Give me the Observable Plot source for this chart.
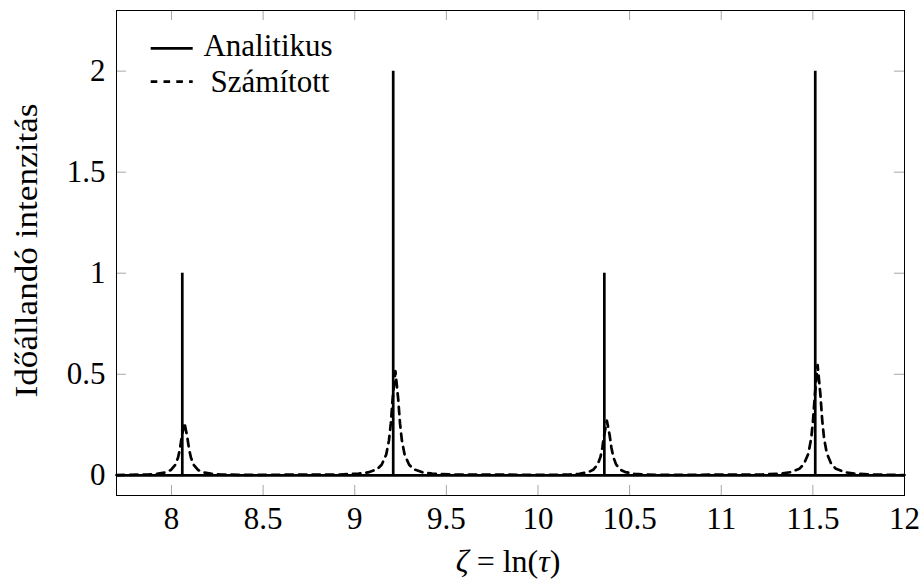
<!DOCTYPE html>
<html>
<head>
<meta charset="utf-8">
<script src="https://cdn.jsdelivr.net/npm/d3@7"></script>
<script src="https://cdn.jsdelivr.net/npm/@observablehq/plot@0.6"></script>
<style>
  html, body { margin: 0; padding: 0; background: #fff; }
  svg { display: block; }
</style>
</head>
<body>
<div id="chart"></div>
<script>
// ---- Data ----
const seriesNames = ["Analitikus", "Számított"];
const xLabelParts = ["ζ", " = ln(", "τ", ")"];
const yLabel = "Időállandó intenzitás";

const xTicks = [8, 8.5, 9, 9.5, 10, 10.5, 11, 11.5, 12];
const yTicks = [0, 0.5, 1, 1.5, 2];
const xDomain = [7.7, 12];
const yDomain = [-0.1, 2.3];

// Analitikus: spikes
const analyticX = [8.059, 9.210, 10.362, 11.513];
const analyticY = [1, 2, 1, 2];

// Számított: read point by point
const computedX = [
  7.700,
  7.771, 7.871, 7.921, 7.971, 7.996, 8.021, 8.036, 8.046, 8.056, 8.071, 8.086, 8.096, 8.106, 8.121, 8.146, 8.171, 8.221, 8.271, 8.371,
  8.922, 9.022, 9.072, 9.122, 9.147, 9.172, 9.187, 9.197, 9.207, 9.222, 9.237, 9.247, 9.257, 9.272, 9.297, 9.322, 9.372, 9.422, 9.522,
  10.076, 10.176, 10.226, 10.276, 10.301, 10.326, 10.341, 10.351, 10.361, 10.376, 10.391, 10.401, 10.411, 10.426, 10.451, 10.476, 10.526, 10.576, 10.676,
  11.226, 11.326, 11.376, 11.426, 11.451, 11.476, 11.491, 11.501, 11.511, 11.526, 11.541, 11.551, 11.561, 11.576, 11.601, 11.626, 11.676, 11.726, 11.826,
  12.000
];
const computedY = [
  0.001,
  0.002, 0.004, 0.007, 0.015, 0.026, 0.052, 0.088, 0.130, 0.190, 0.260, 0.190, 0.130, 0.088, 0.052, 0.026, 0.015, 0.007, 0.004, 0.002,
  0.004, 0.008, 0.014, 0.030, 0.052, 0.103, 0.174, 0.258, 0.379, 0.515, 0.379, 0.258, 0.174, 0.103, 0.052, 0.030, 0.014, 0.008, 0.004,
  0.002, 0.004, 0.007, 0.016, 0.027, 0.054, 0.091, 0.135, 0.198, 0.270, 0.198, 0.135, 0.091, 0.054, 0.027, 0.016, 0.007, 0.004, 0.002,
  0.004, 0.008, 0.015, 0.032, 0.055, 0.109, 0.184, 0.273, 0.400, 0.545, 0.400, 0.273, 0.184, 0.109, 0.055, 0.032, 0.015, 0.008, 0.004,
  0.001
];

// ---- Tables built from the arrays ----
const analytic = analyticX.map((x, i) => ({x, y: analyticY[i]}));
const computed = computedX.map((x, i) => ({x, y: computedY[i]}));

const W = 922, H = 581;
const mL = 116, mR = 18, mT = 10, mB = 86;
const innerW = W - mL - mR, innerH = H - mT - mB;
const tickLen = 10;
const FONT = "'Liberation Serif'";
const FS = 31;
const tickGray = "#a6a6a6";
const lw = 2.7;
const dash = "7.5,6";
const fmt = d => String(d);

const plot = Plot.plot({
  width: W, height: H,
  marginLeft: mL, marginRight: mR, marginTop: mT, marginBottom: mB,
  style: {background: "white", color: "black", overflow: "visible"},
  x: {domain: xDomain},
  y: {domain: yDomain},
  marks: [
    Plot.ruleX(xTicks, {stroke: tickGray, strokeWidth: 1, insetTop: innerH - tickLen}),
    Plot.ruleX(xTicks, {stroke: tickGray, strokeWidth: 1, insetBottom: innerH - tickLen}),
    Plot.ruleY(yTicks, {stroke: tickGray, strokeWidth: 1, insetRight: innerW - tickLen}),
    Plot.ruleY(yTicks, {stroke: tickGray, strokeWidth: 1, insetLeft: innerW - tickLen}),
    Plot.axisX(xTicks, {tickSize: 0, tickPadding: 11, label: null, fill: "black", tickFormat: fmt, fontSize: FS}),
    Plot.axisY(yTicks, {tickSize: 0, tickPadding: 11, label: null, fill: "black", tickFormat: fmt, fontSize: FS}),
    Plot.ruleY([0], {stroke: "black", strokeWidth: lw}),
    Plot.ruleX(analytic, {x: "x", y1: 0, y2: "y", stroke: "black", strokeWidth: lw}),
    Plot.line(computed, {x: "x", y: "y", stroke: "black", strokeWidth: lw, strokeDasharray: dash}),
    Plot.frame({stroke: "black", strokeWidth: 1})
  ]
});

document.getElementById("chart").appendChild(plot);

// ---- Axis titles and legend ----
const svg = d3.select(plot);
const g = svg.append("g").attr("fill", "black");

// y title
g.append("text")
  .attr("transform", `translate(37,${mT + innerH / 2 - 2}) rotate(-90)`)
  .attr("text-anchor", "middle")
  .attr("textLength", 294)
  .attr("lengthAdjust", "spacingAndGlyphs")
  .style("font-size", FS + "px")
  .text(yLabel);

// x title with italic Greek letters
const xt = g.append("text")
  .attr("x", mL + innerW / 2 - 2)
  .attr("y", 572)
  .attr("text-anchor", "middle")
  .style("font-size", "32px");
xLabelParts.forEach((p, i) => {
  xt.append("tspan").style("font-style", i % 2 === 0 ? "italic" : "normal").text(p);
});

// legend
const lg = g.append("g");
lg.append("line").attr("x1", 150.7).attr("x2", 192.7).attr("y1", 48.3).attr("y2", 48.3)
  .attr("stroke", "black").attr("stroke-width", lw);
lg.append("line").attr("x1", 150.7).attr("x2", 192.7).attr("y1", 81.7).attr("y2", 81.7)
  .attr("stroke", "black").attr("stroke-width", lw).attr("stroke-dasharray", "6.6,6.2");
lg.append("text").attr("x", 268).attr("y", 56).attr("text-anchor", "middle").style("font-size", FS + "px").text(seriesNames[0]);
lg.append("text").attr("x", 270).attr("y", 92).attr("text-anchor", "middle").style("font-size", FS + "px").text(seriesNames[1]);

// force the serif face on every text node
svg.selectAll("g").attr("font-family", null);
svg.attr("font-family", null);
svg.selectAll("text").style("font-family", FONT);
</script>
</body>
</html>
